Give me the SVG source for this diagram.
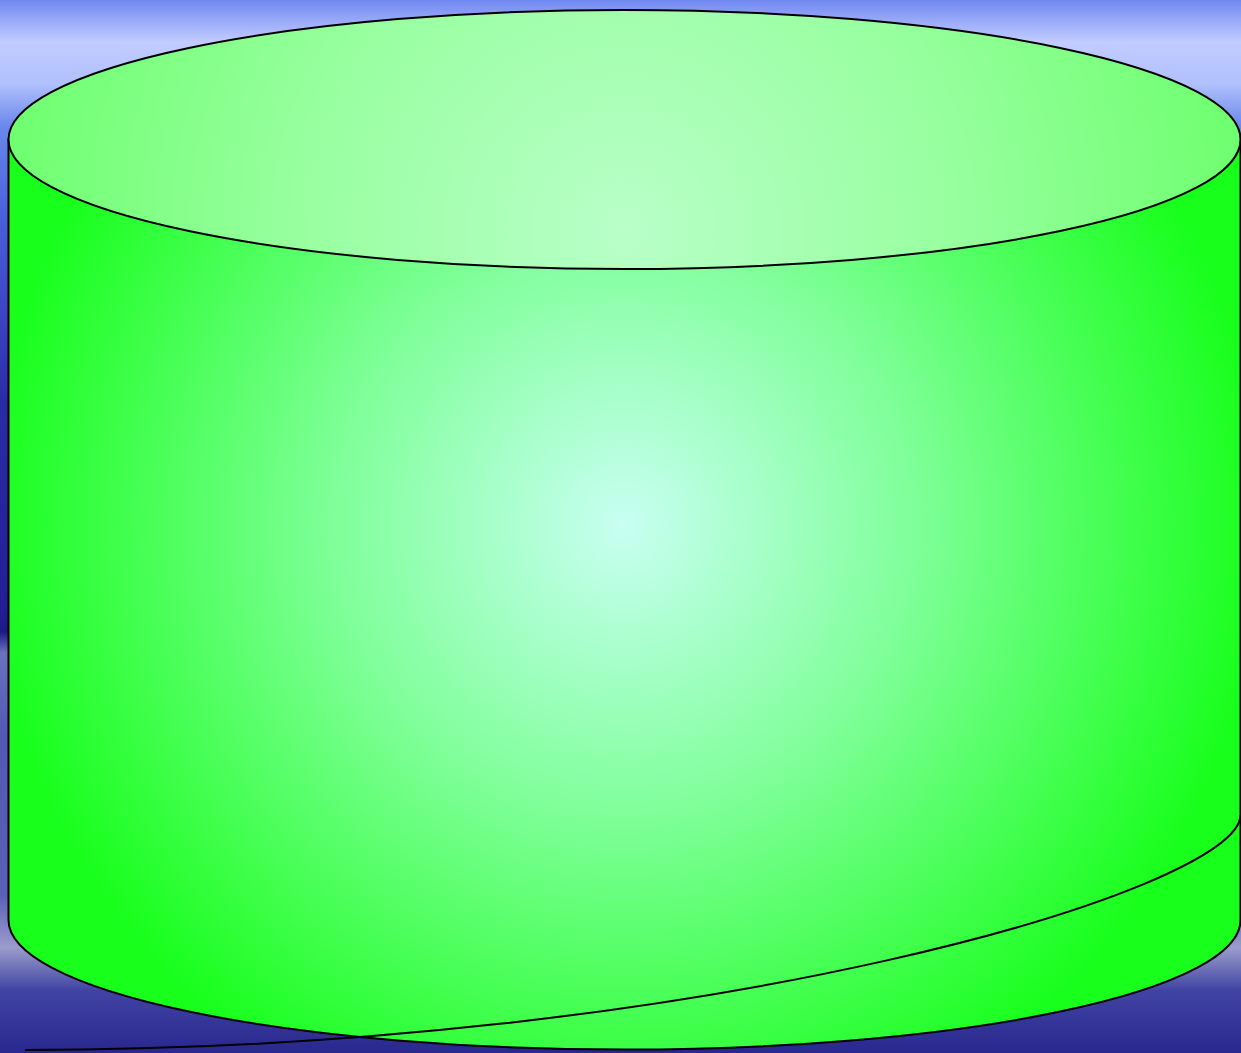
<svg xmlns="http://www.w3.org/2000/svg" width="1241" height="1053" viewBox="0 0 1241 1053">
  <defs>
    <linearGradient id="bg" x1="0" y1="0" x2="0" y2="1053" gradientUnits="userSpaceOnUse">
      <stop offset="0" stop-color="#7088f0"/>
      <stop offset="0.04" stop-color="#c2ccff"/>
      <stop offset="0.08" stop-color="#b0c0fc"/>
      <stop offset="0.12" stop-color="#6a88ec"/>
      <stop offset="0.2" stop-color="#4a62dc"/>
      <stop offset="0.3" stop-color="#3c44c4"/>
      <stop offset="0.38" stop-color="#2a2ca6"/>
      <stop offset="0.58" stop-color="#221f96"/>
      <stop offset="0.6" stop-color="#1c1a84"/>
      <stop offset="0.62" stop-color="#6a72bc"/>
      <stop offset="0.7" stop-color="#5258b4"/>
      <stop offset="0.85" stop-color="#5a60b8"/>
      <stop offset="0.9" stop-color="#9a9ccc"/>
      <stop offset="0.94" stop-color="#4244a4"/>
      <stop offset="1" stop-color="#28278e"/>
    </linearGradient>
    <radialGradient id="body" cx="624" cy="525" r="640" gradientUnits="userSpaceOnUse">
      <stop offset="0" stop-color="#c8fff2"/>
      <stop offset="0.45" stop-color="#80ff9a"/>
      <stop offset="1" stop-color="#18ff1c"/>
    </radialGradient>
    <radialGradient id="top" cx="624" cy="230" r="640" gradientUnits="userSpaceOnUse">
      <stop offset="0" stop-color="#b8ffc8"/>
      <stop offset="0.5" stop-color="#98ffa0"/>
      <stop offset="1" stop-color="#6cff6c"/>
    </radialGradient>
  </defs>
  <style>
    .edge { stroke: #000; stroke-width: 2; }
  </style>
  <rect x="0" y="0" width="1241" height="1053" fill="url(#bg)"/>
  <g id="cylinder">
    <path class="edge" fill="url(#body)" d="M 8.5 139.5 L 8.5 920 A 616 129.5 0 0 0 1240.5 920 L 1240.5 139.5 Z"/>
    <ellipse class="edge" fill="url(#top)" cx="624.5" cy="139.5" rx="616" ry="129.5"/>
  </g>
  <g id="connectors">
    <path class="edge" fill="none" d="M 1240.5 815 C 1240.5 890 700 1050 25 1050"/>
  </g>
</svg>
